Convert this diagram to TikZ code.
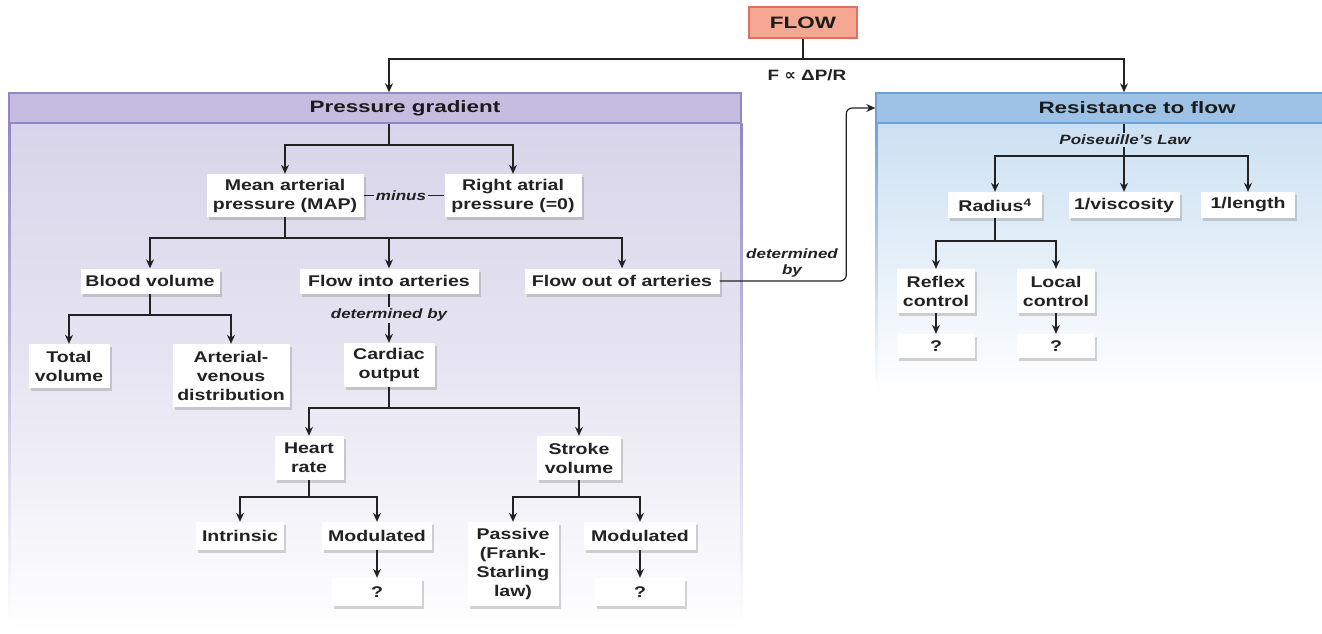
\documentclass[tikz,border=0pt]{standalone}
\usepackage{fontspec}
\setmainfont{Liberation Sans}[FakeStretch=1.26]
\newfontfamily\headfont{Liberation Sans}[FakeStretch=1.36]
\newfontfamily\symfont{DejaVu Sans}
\usetikzlibrary{arrows.meta,shadows}

\definecolor{ink}{HTML}{222222}
\definecolor{flowfill}{HTML}{F5A794}
\definecolor{flowline}{HTML}{E0705E}
\definecolor{pghead}{HTML}{C6BCDF}
\definecolor{pgline}{HTML}{9088C4}
\definecolor{pgbody}{HTML}{D8D5EA}
\definecolor{rhead}{HTML}{9DC2E6}
\definecolor{rline}{HTML}{6CA2D6}
\definecolor{rbody}{HTML}{CCE0F2}

\tikzset{
  box/.style={fill=white, text=ink, font=\bfseries\fontsize{15.5}{19}\selectfont,
    align=center, inner sep=0pt,
    drop shadow={shadow xshift=2pt, shadow yshift=-3pt, opacity=0.3, fill=black!55}},
  note/.style={text=ink, font=\bfseries\itshape\fontsize{13.5}{16}\selectfont,
    align=center, inner sep=1.5pt},
  title/.style={text=ink!80!black, font=\headfont\bfseries\fontsize{16.5}{19}\selectfont, inner sep=0pt},
  link/.style={draw=ink, line width=1.2pt},
  arr/.style={link, -{Stealth[length=9pt,width=8pt]}},
}

\begin{document}
\begin{tikzpicture}[x=1pt,y=-1pt]
\useasboundingbox (0,0) rectangle (1322,634);

% ---- panel backgrounds ----
\shade[top color=pgbody, bottom color=white, middle color=pgbody!60] (9,123) rectangle (741,634);
\shade[top color=pgline, bottom color=white] (8,123) rectangle (10.5,625);
\shade[top color=pgline, bottom color=white] (740,123) rectangle (742.5,625);
\shade[top color=rbody, bottom color=white] (876,123) rectangle (1322,395);
\shade[top color=rline, bottom color=white] (875,123) rectangle (877.5,390);

\node[draw=pgline, fill=pghead, line width=1.5pt, minimum width=732pt,
      minimum height=30pt, inner sep=0pt] (pgh) at (375,108) {};
\node[title] (pgt) at (405,108) {Pressure gradient};
\node[draw=rline, fill=rhead, line width=1.5pt, minimum width=447pt,
      minimum height=30pt, inner sep=0pt] (rhdr) at (1099.5,108) {};
\node[title] (rht) at (1137,108) {Resistance to flow};

% ---- top ----
\node[draw=flowline, fill=flowfill, line width=1.5pt, minimum width=108pt,
      minimum height=31pt, inner sep=0pt, title] (flow) at (803,22.5) {FLOW};
\coordinate (jtop) at (803,59);
\node[text=ink, font=\bfseries\fontsize{15}{18}\selectfont, inner sep=0pt] (law) at (807,75)
  {F {\symfont\fontsize{16}{18}\selectfont ∝} ΔP/R};
\draw[link] (flow.south) -- (jtop);
\draw[arr] (jtop) -| ([xshift=14pt]pgh.north);
\draw[arr] (jtop) -| ([xshift=24.5pt]rhdr.north);

% ---- pressure gradient tree ----
\node[box, minimum width=157pt, minimum height=43pt] (map) at (285,195.5) {Mean arterial\\pressure (MAP)};
\node[box, minimum width=137pt, minimum height=43pt] (rap) at (513,195.5) {Right atrial\\pressure (=0)};
\node[note] (minus) at (401,195.5) {minus};
\coordinate (j2) at (389,145);
\draw[link] ([xshift=14pt]pgh.south) -- (j2);
\draw[arr] (j2) -| (map.north);
\draw[arr] (j2) -| (rap.north);
\draw[link] (map.east) -- (minus.west);
\draw[link] (minus.east) -- (rap.west);

\node[box, minimum width=139pt, minimum height=25pt] (blood) at (150,281) {Blood volume};
\node[box, minimum width=179pt, minimum height=25pt] (fin) at (389,281) {Flow into arteries};
\node[box, minimum width=195pt, minimum height=25pt] (fout) at (622,281) {Flow out of arteries};
\coordinate (j3) at (285,238);
\draw[link] (map.south) -- (j3);
\draw[arr] (j3) -| (blood.north);
\draw[arr] (j3) -| (fin.north);
\draw[arr] (j3) -| (fout.north);

\node[box, minimum width=81pt, minimum height=44pt] (total) at (69,366) {Total\\volume};
\node[box, minimum width=117pt, minimum height=63pt] (av) at (231,375.5) {Arterial-\\venous\\distribution};
\coordinate (j4) at (150,315);
\draw[link] (blood.south) -- (j4);
\draw[arr] (j4) -| (total.north);
\draw[arr] (j4) -| (av.north);

\node[note] (det1) at (389,315) {determined by};
\node[box, minimum width=91pt, minimum height=44pt] (cardiac) at (389,365) {Cardiac\\output};
\draw[link] (fin.south) -- (det1.north);
\draw[arr] (det1.south) -- (cardiac.north);

\node[box, minimum width=69pt, minimum height=44pt] (heart) at (309,458) {Heart\\rate};
\node[box, minimum width=84pt, minimum height=44pt] (stroke) at (579,458) {Stroke\\volume};
\coordinate (j5) at (389,408);
\draw[link] (cardiac.south) -- (j5);
\draw[arr] (j5) -| (heart.north);
\draw[arr] (j5) -| (stroke.north);

\node[box, minimum width=88pt, minimum height=28pt] (intr) at (240,536) {Intrinsic};
\node[box, minimum width=110pt, minimum height=28pt] (mod1) at (377,536) {Modulated};
\node[box, minimum width=90pt, minimum height=28pt] (q1) at (377,592) {?};
\coordinate (j6) at (309,497);
\draw[link] (heart.south) -- (j6);
\draw[arr] (j6) -| (intr.north);
\draw[arr] (j6) -| (mod1.north);
\draw[arr] (mod1.south) -- (q1.north);

\node[box, minimum width=91pt, minimum height=84pt] (passive) at (513,564) {Passive\\(Frank-\\Starling\\law)};
\node[box, minimum width=112pt, minimum height=28pt] (mod2) at (640,536) {Modulated};
\node[box, minimum width=90pt, minimum height=28pt] (q2) at (640,592) {?};
\coordinate (j7) at (579,497);
\draw[link] (stroke.south) -- (j7);
\draw[arr] (j7) -| (passive.north);
\draw[arr] (j7) -| (mod2.north);
\draw[arr] (mod2.south) -- (q2.north);

% ---- link to resistance ----
\node[note] (det2) at (792,263) {determined\\by};
\draw[arr, rounded corners=6pt] (fout.east) -| ([xshift=-29pt]rhdr.west) -- (rhdr.west);

% ---- resistance tree ----
\node[note] (pois) at (1125,140) {Poiseuille's Law};
\coordinate (j8) at (1124,156);
\draw[link] ([xshift=24.5pt]rhdr.south) -- ([xshift=-1pt]pois.north);
\draw[link] ([xshift=-1pt]pois.south) -- (j8);

\node[box, minimum width=94pt, minimum height=26pt] (rad) at (995,205) {Radius\textsuperscript{4}};
\node[box, minimum width=111pt, minimum height=26pt] (visc) at (1124,205) {1/viscosity};
\node[box, minimum width=94pt, minimum height=26pt] (len) at (1248,205) {1/length};
\draw[arr] (j8) -| (rad.north);
\draw[arr] (j8) -- (visc.north);
\draw[arr] (j8) -| (len.north);

\node[box, minimum width=78pt, minimum height=44pt] (reflex) at (936,291) {Reflex\\control};
\node[box, minimum width=78pt, minimum height=44pt] (local) at (1056,291) {Local\\control};
\coordinate (j9) at (995,241);
\draw[link] (rad.south) -- (j9);
\draw[arr] (j9) -| (reflex.north);
\draw[arr] (j9) -| (local.north);

\node[box, minimum width=78pt, minimum height=24pt] (q3) at (936,346) {?};
\node[box, minimum width=78pt, minimum height=24pt] (q4) at (1056,346) {?};
\draw[arr] (reflex.south) -- (q3.north);
\draw[arr] (local.south) -- (q4.north);
\end{tikzpicture}
\end{document}
